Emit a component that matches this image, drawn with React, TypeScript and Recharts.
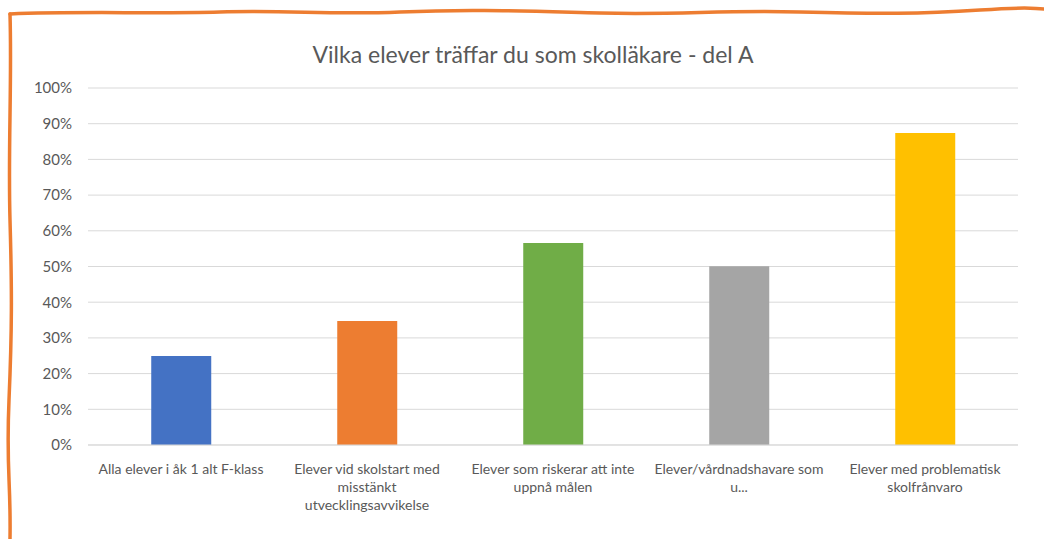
import React from 'react';
import { BarChart, Bar, XAxis, YAxis, CartesianGrid, Cell } from 'recharts';

// line breaks as they appear under the bars
const categories = [
  'Alla elever i åk 1 alt F-klass',
  'Elever vid skolstart med\nmisstänkt\nutvecklingsavvikelse',
  'Elever som riskerar att inte\nuppnå målen',
  'Elever/vårdnadshavare som\nu...',
  'Elever med problematisk\nskolfrånvaro'
];
const values = [0.249, 0.347, 0.566, 0.501, 0.874];
const barColors = ['#4472C4', '#ED7D31', '#70AD47', '#A5A5A5', '#FFC000'];
const yTicks = [0, 0.1, 0.2, 0.3, 0.4, 0.5, 0.6, 0.7, 0.8, 0.9, 1];

const title = 'Vilka elever träffar du som skolläkare - del A';

const data = categories.map((name, i) => ({ name, value: values[i] }));

const FONT = 'Lato, "Open Sans", sans-serif';
const TEXT_COLOR = '#595959';

const CategoryTick = (props: any) => {
  const { x, y, payload } = props;
  const lines = String(payload.value).split('\n');
  return (
    <text
      x={x}
      y={y + 8}
      textAnchor="middle"
      fill={TEXT_COLOR}
      fontSize={14}
      fontFamily={FONT}
    >
      {lines.map((line, i) => (
        <tspan key={i} x={x} dy={i === 0 ? '0.95em' : 18}>
          {line}
        </tspan>
      ))}
    </text>
  );
};

export default function App() {
  return (
    <div
      style={{
        position: 'absolute',
        left: 0,
        top: 0,
        width: 1044,
        height: 539,
        background: '#fff',
        fontFamily: FONT
      }}
    >
      <div
        style={{
          position: 'absolute',
          top: 40,
          left: 0,
          width: 1066,
          textAlign: 'center',
          fontSize: 23,
          color: TEXT_COLOR,
          fontFamily: FONT
        }}
      >
        {title}
      </div>
      <BarChart
        width={1044}
        height={539}
        data={data}
        margin={{ top: 88, right: 26, left: 28, bottom: 14 }}
        barCategoryGap="34%"
      >
        <CartesianGrid vertical={false} stroke="#d9d9d9" strokeWidth={1} />
        <XAxis
          dataKey="name"
          interval={0}
          height={80}
          axisLine={{ stroke: '#d9d9d9' }}
          tickLine={false}
          tick={<CategoryTick />}
        />
        <YAxis
          domain={[0, 1]}
          ticks={yTicks}
          width={60}
          axisLine={false}
          tickLine={false}
          tickSize={0}
          tickMargin={16}
          tickFormatter={(v: number) => `${Math.round(v * 100)}%`}
          tick={{ fill: TEXT_COLOR, fontSize: 15, fontFamily: FONT }}
        />
        <Bar dataKey="value" isAnimationActive={false}>
          {data.map((d, i) => (
            <Cell key={d.name} fill={barColors[i]} />
          ))}
        </Bar>
      </BarChart>
      <svg
        width={1044}
        height={539}
        style={{ position: 'absolute', left: 0, top: 0, pointerEvents: 'none' }}
      >
        <path
          d="M10 14 C 80 11, 150 14, 220 12 S 330 15, 400 12 S 520 11, 600 13 S 720 10, 800 12 S 920 14, 980 10 S 1030 9, 1044 9"
          fill="none"
          stroke="#ED7D31"
          strokeWidth={3.5}
          strokeLinecap="round"
        />
        <path
          d="M10 14 C 12 80, 8 150, 10 220 S 12 330, 9 400 S 11 480, 10 539"
          fill="none"
          stroke="#ED7D31"
          strokeWidth={3.5}
          strokeLinecap="round"
        />
      </svg>
    </div>
  );
}
